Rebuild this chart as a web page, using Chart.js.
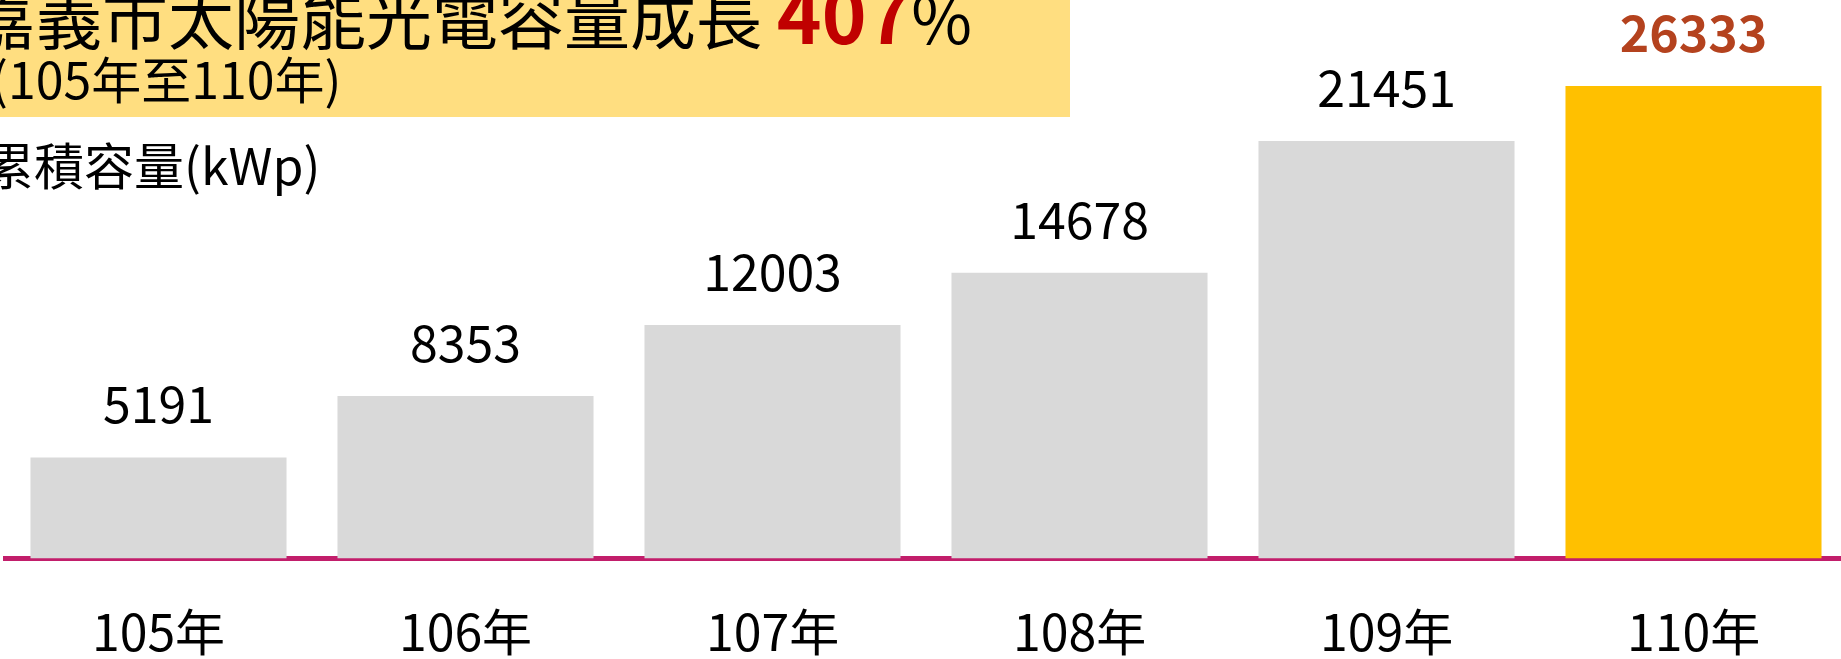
<!DOCTYPE html>
<html>
<head>
<meta charset="utf-8">
<script src="https://cdn.jsdelivr.net/npm/chart.js@4.4.1/dist/chart.umd.min.js"></script>
<style>
html,body{margin:0;padding:0;width:1841px;height:659px;overflow:hidden;background:#fff;}
#wrap{position:relative;width:1841px;height:659px;overflow:hidden;}
#c{position:absolute;left:0;top:0;}
.hdr{position:absolute;left:0;top:0;width:1070px;height:117px;background:#FFDE80;overflow:hidden;}
.t1{position:absolute;left:-30px;top:-27px;font:66px/1 "Noto Sans CJK TC";white-space:nowrap;color:#000;}
.t1 b{color:#C00000;font-weight:700;font-size:76px;}
.t2{position:absolute;left:-9px;top:52px;font:50px/1 "Noto Sans CJK TC";white-space:nowrap;color:#000;}
.unit{position:absolute;left:-16px;top:138px;font:50px/1 "Noto Sans CJK TC";white-space:nowrap;color:#000;}
</style>
</head>
<body>
<div id="wrap">
  <canvas id="c" width="1850" height="659"></canvas>
  <div class="hdr">
    <div class="t1">嘉義市太陽能光電容量成長 <b>407</b>%</div>
    <div class="t2">(105年至110年)</div>
  </div>
  <div class="unit">累積容量(kWp)</div>
</div>
<script>
// ---- data ----
const categories = ['105年', '106年', '107年', '108年', '109年', '110年'];
const capacityKWp = [5191, 8353, 12003, 14678, 21451, 26333];
const yAxisMax = 24280;

// ---- styles ----
const baseColor = '#D9D9D9';
const highlightColor = '#FFC000';
const highlightLabelColor = '#B4421E';
const axisColor = '#C21E6B';
const FONT = '"Noto Sans CJK TC", "Noto Sans CJK SC", sans-serif';
const lastIdx = capacityKWp.length - 1;

const valueLabels = {
  id: 'valueLabels',
  afterDatasetsDraw(chart) {
    const ctx = chart.ctx;
    const area = chart.chartArea;
    const meta = chart.getDatasetMeta(0);
    ctx.save();
    ctx.textAlign = 'center';
    ctx.textBaseline = 'alphabetic';
    meta.data.forEach((bar, i) => {
      const hl = i === lastIdx;
      ctx.font = (hl ? 'bold ' : '') + '50px ' + FONT;
      ctx.fillStyle = hl ? highlightLabelColor : '#000000';
      const top = Math.max(bar.y, area.top);
      ctx.fillText(String(capacityKWp[i]), bar.x, top - 34);
    });
    ctx.restore();
  }
};

new Chart(document.getElementById('c'), {
  type: 'bar',
  data: {
    labels: categories,
    datasets: [{
      data: capacityKWp,
      backgroundColor: capacityKWp.map((v, i) => i === lastIdx ? highlightColor : baseColor),
      borderWidth: 0,
      barPercentage: 0.834,
      categoryPercentage: 1,
      clip: 0
    }]
  },
  options: {
    responsive: false,
    devicePixelRatio: 1,
    animation: false,
    layout: { padding: { left: 5, right: 3, top: 86, bottom: 0 } },
    plugins: { legend: { display: false }, tooltip: { enabled: false }, title: { display: false } },
    scales: {
      y: { display: false, min: 0, max: yAxisMax },
      x: {
        z: 1,
        offset: true,
        grid: { display: false, drawTicks: false },
        border: { display: true, color: axisColor, width: 5 },
        afterFit(scale) { scale.height = 100.5; },
        ticks: {
          color: '#000000',
          font: { family: FONT, size: 50, lineHeight: 1 },
          padding: 48,
          maxRotation: 0,
          autoSkip: false
        }
      }
    }
  },
  plugins: [valueLabels]
});
</script>
</body>
</html>
